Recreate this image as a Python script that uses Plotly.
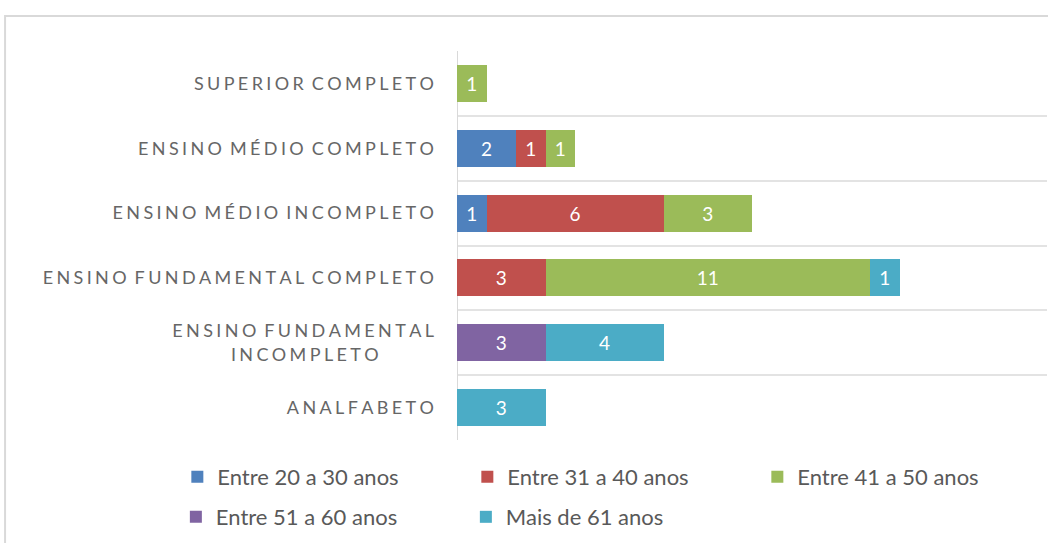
import plotly.graph_objects as go

categories = ["SUPERIOR COMPLETO", "ENSINO MÉDIO COMPLETO", "ENSINO MÉDIO INCOMPLETO",
              "ENSINO FUNDAMENTAL COMPLETO", "ENSINO FUNDAMENTAL INCOMPLETO", "ANALFABETO"]
series_names = ["Entre 20 a 30 anos", "Entre 31 a 40 anos", "Entre 41 a 50 anos",
                "Entre 51 a 60 anos", "Mais de 61 anos"]
v_20_30 = [0, 2, 1, 0, 0, 0]
v_31_40 = [0, 1, 6, 3, 0, 0]
v_41_50 = [1, 1, 3, 11, 0, 0]
v_51_60 = [0, 0, 0, 0, 3, 0]
v_61 = [0, 0, 0, 1, 4, 3]
series_values = [v_20_30, v_31_40, v_41_50, v_51_60, v_61]
colors = ["#4F81BD", "#C0504D", "#9BBB59", "#8064A2", "#4BACC6"]

FONT = "Lato"
GAP = "\u2009\u200a"


def spaced(s):
    words = s.split(" ")
    return ("\u00a0" + GAP).join(GAP.join(list(w)) for w in words)


def label(s):
    if s == "ENSINO FUNDAMENTAL INCOMPLETO":
        return spaced("ENSINO FUNDAMENTAL") + "<br>" + spaced("INCOMPLETO") + "\u00a0" * 12
    return spaced(s)


ylabels = [label(c) for c in categories]

fig = go.Figure()
for i, (name, vals, col) in enumerate(zip(series_names, series_values, colors)):
    fig.add_trace(go.Bar(
        y=ylabels, x=vals, name=name, orientation="h",
        marker=dict(color=col, line=dict(width=0)),
        text=[str(v) if v else "" for v in vals],
        textposition="inside", insidetextanchor="middle",
        textfont=dict(color="white", size=19, family=FONT),
        legend="legend" if i < 3 else "legend2",
        hoverinfo="skip",
    ))

fig.update_layout(
    barmode="stack", bargap=0.43,
    width=1048, height=543,
    margin=dict(l=457, r=1, t=51, b=103),
    paper_bgcolor="white", plot_bgcolor="white",
    font=dict(family=FONT, color="#595959"),
    uniformtext=dict(minsize=10, mode="show"),
    xaxis=dict(range=[0, 20], showgrid=False, showticklabels=False, ticks="",
               zeroline=True, zerolinecolor="#D9D9D9", zerolinewidth=1, fixedrange=True),
    yaxis=dict(autorange="reversed", tickson="boundaries", showgrid=True,
               gridcolor="#E3E3E3", gridwidth=2, ticks="", ticklabelstandoff=22,
               tickfont=dict(size=18, family=FONT, color="#666666"), showline=False),
    legend=dict(orientation="h", x=-0.474, xanchor="left", y=-0.095, yanchor="middle",
                entrywidth=245, entrywidthmode="pixels", traceorder="normal",
                font=dict(size=22, family=FONT, color="#595959"), itemwidth=30),
    legend2=dict(orientation="h", x=-0.4765, xanchor="left", y=-0.198, yanchor="middle",
                 entrywidth=245, entrywidthmode="pixels", traceorder="normal",
                 font=dict(size=22, family=FONT, color="#595959"), itemwidth=30),
    shapes=[dict(type="rect", xref="paper", yref="paper", x0=-0.766, x1=1.2,
                 y0=-0.5, y1=1.09, line=dict(color="#D9D9D9", width=2), layer="below")],
)

fig.write_html("out.html", config={"displayModeBar": False},
               post_script="document.body.style.margin='0';")
